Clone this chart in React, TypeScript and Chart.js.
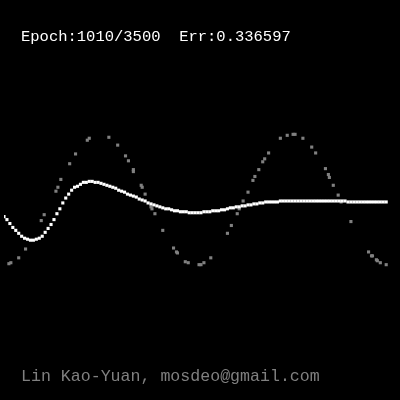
import React, { useEffect, useRef } from "react";
import { Chart, registerables } from "chart.js";

Chart.register(...registerables);

// Target samples (gray): x position and value
const sampleX = [
  0.05, 0.07, 0.15, 0.22, 0.38, 0.41, 0.53, 0.55, 0.58, 0.67,
  0.73, 0.85, 0.87, 1.07, 1.16, 1.24, 1.27, 1.32, 1.32, 1.40,
  1.41, 1.44, 1.50, 1.51, 1.54, 1.62, 1.73, 1.76, 1.77, 1.85,
  1.88, 1.99, 2.01, 2.04, 2.11, 2.28, 2.32, 2.38, 2.40, 2.44,
  2.49, 2.54, 2.56, 2.60, 2.64, 2.66, 2.70, 2.82, 2.89, 2.95,
  2.97, 3.05, 3.14, 3.18, 3.28, 3.31, 3.32, 3.36, 3.41, 3.44,
  3.54, 3.72, 3.75, 3.76, 3.80, 3.81, 3.84, 3.90,
];
const sampleY = [
  -0.65, -0.64, -0.59, -0.50, -0.21, -0.15, 0.09, 0.13, 0.21, 0.37,
  0.47, 0.61, 0.63, 0.64, 0.56, 0.45, 0.40, 0.31, 0.29, 0.15,
  0.13, 0.06, -0.07, -0.09, -0.14, -0.31, -0.49, -0.53, -0.54, -0.63,
  -0.64, -0.66, -0.66, -0.64, -0.59, -0.34, -0.26, -0.14, -0.09, -0.01,
  0.08, 0.20, 0.24, 0.31, 0.39, 0.42, 0.48, 0.63, 0.66, 0.67,
  0.67, 0.63, 0.54, 0.48, 0.32, 0.26, 0.23, 0.15, 0.05, -0.02,
  -0.22, -0.53, -0.57, -0.57, -0.61, -0.62, -0.64, -0.66,
];

// Network output (white), evaluated on a uniform grid
const outputStep = 0.03;
const outputY = [
  -0.17, -0.20, -0.24, -0.28, -0.31, -0.34, -0.37, -0.39, -0.40, -0.41,
  -0.41, -0.40, -0.39, -0.37, -0.33, -0.29, -0.25, -0.20, -0.14, -0.09,
  -0.03, 0.02, 0.06, 0.10, 0.13, 0.14, 0.16, 0.18, 0.18, 0.19,
  0.19, 0.18, 0.18, 0.17, 0.16, 0.15, 0.14, 0.13, 0.12, 0.10,
  0.09, 0.08, 0.06, 0.05, 0.04, 0.03, 0.01, 0.00, -0.01, -0.03,
  -0.04, -0.05, -0.06, -0.07, -0.08, -0.09, -0.09, -0.10, -0.11, -0.11,
  -0.12, -0.12, -0.12, -0.13, -0.13, -0.13, -0.13, -0.13, -0.12, -0.12,
  -0.12, -0.11, -0.11, -0.11, -0.10, -0.10, -0.09, -0.08, -0.08, -0.07,
  -0.07, -0.06, -0.06, -0.05, -0.05, -0.04, -0.04, -0.03, -0.03, -0.02,
  -0.02, -0.02, -0.02, -0.02, -0.01, -0.01, -0.01, -0.01, -0.01, -0.01,
  -0.01, -0.01, -0.01, -0.01, -0.01, -0.01, -0.01, -0.01, -0.01, -0.01,
  -0.01, -0.01, -0.01, -0.01, -0.01, -0.01, -0.01, -0.02, -0.02, -0.02,
  -0.02, -0.02, -0.02, -0.02, -0.02, -0.02, -0.02, -0.02, -0.02, -0.02,
  -0.02,
];

const titleText = "Epoch:1010/3500  Err:0.336597";
const creditText = "Lin Kao-Yuan, mosdeo@gmail.com";

export default function App() {
  const ref = useRef<HTMLCanvasElement | null>(null);

  useEffect(() => {
    document.body.style.margin = "0";
    document.body.style.background = "#000";
    const canvas = ref.current;
    if (!canvas) return;
    const outputs = outputY.map((y, i) => ({ x: i * outputStep, y }));
    const samples = sampleX.map((x, i) => ({ x, y: sampleY[i] }));
    const chart = new Chart(canvas, {
      type: "scatter",
      data: {
        datasets: [
          {
            data: outputs,
            pointStyle: "rect",
            pointRadius: 2.2,
            pointBorderWidth: 0,
            backgroundColor: "#ffffff",
            borderColor: "#ffffff",
          },
          {
            data: samples,
            pointStyle: "rect",
            pointRadius: 2.2,
            pointBorderWidth: 0,
            backgroundColor: "#808080",
            borderColor: "#808080",
          },
        ],
      },
      options: {
        animation: false,
        responsive: false,
        maintainAspectRatio: false,
        layout: { padding: 0 },
        plugins: {
          legend: { display: false },
          tooltip: { enabled: false },
          title: { display: false },
        },
        scales: {
          x: { type: "linear", min: 0, max: 4, display: false },
          y: { type: "linear", min: -2, max: 2, display: false },
        },
      },
    });
    return () => chart.destroy();
  }, []);

  return (
    <div
      style={{
        position: "fixed",
        left: 0,
        top: 0,
        width: 400,
        height: 400,
        background: "#000",
        overflow: "hidden",
      }}
    >
      <canvas ref={ref} width={400} height={400} style={{ display: "block" }} />
      <div
        style={{
          position: "absolute",
          left: 21,
          top: 29,
          fontFamily: "'Liberation Mono', monospace",
          fontSize: 15.5,
          lineHeight: "16px",
          color: "#ffffff",
          whiteSpace: "pre",
        }}
      >
        {titleText}
      </div>
      <div
        style={{
          position: "absolute",
          left: 21,
          top: 369,
          fontFamily: "'Liberation Mono', monospace",
          fontSize: 16.6,
          lineHeight: "16px",
          color: "#808080",
          whiteSpace: "pre",
        }}
      >
        {creditText}
      </div>
    </div>
  );
}
